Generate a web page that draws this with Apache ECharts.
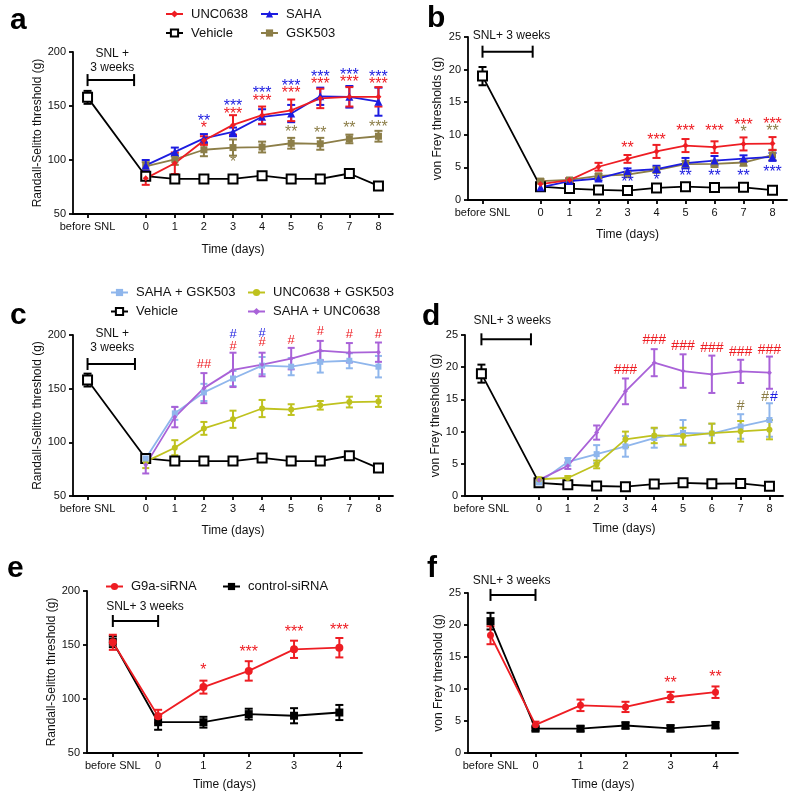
<!DOCTYPE html>
<html><head><meta charset="utf-8">
<script src="https://cdn.jsdelivr.net/npm/echarts@6/dist/echarts.min.js"></script>
<style>html,body{margin:0;padding:0;background:#fff}#chart{width:800px;height:799px}</style>
</head><body><div id="chart"></div>
<script>
// ---------------- DATA ----------------
const dayTicksLong = [-2, 0, 1, 2, 3, 4, 5, 6, 7, 8];   // -2 = "before SNL"
const dayTicksShort = [-1, 0, 1, 2, 3, 4];              // -1 = "before SNL"
const treatDays = [0, 1, 2, 3, 4, 5, 6, 7, 8];
const beforeLabel = 'before SNL';
const xTitle = 'Time (days)';
const rsTitle = 'Randall-Selitto threshold (g)';
const vfTitleAB = 'von Frey thresholds (g)';
const vfTitleF = 'von Frey threshold (g)';

// Vehicle (shared by a/c and b/d)
const vehicleRS = [158, 85, 82.5, 82.5, 82.5, 85.5, 82.5, 82.5, 87.5, 76];
const vehicleRSErr = [6, 3, 3, 3, 3, 3, 3.5, 3.5, 3, 2.5];
const vehicleVF = [19, 2.05, 1.75, 1.55, 1.45, 1.85, 2.05, 1.9, 1.95, 1.5];
const vehicleVFErr = [1.4, 0.3, 0.3, 0.3, 0.3, 0.3, 0.3, 0.3, 0.3, 0.3];

// Panel a (Randall-Selitto)
const uncA = [83, 97, 118, 132.5, 141.5, 146, 157, 158.5, 158.5];
const uncAErr = [6, 10, 4, 9, 8, 10, 9, 9, 9];
const sahaA = [95, 107.5, 120, 126, 140, 143, 159, 158.5, 154];
const sahaAErr = [5, 4, 4, 4, 7, 8, 8, 10, 13];
const gskA = [94, 100.5, 109.5, 111.5, 112, 115.5, 115, 119.5, 122];
const gskAErr = [4, 5, 6, 7.5, 5, 5, 5.5, 4, 5];

// Panel b (von Frey)
const uncB = [2.45, 3.05, 5.1, 6.3, 7.45, 8.35, 8.1, 8.6, 8.65];
const uncBErr = [0.3, 0.3, 0.6, 0.6, 1.0, 1.0, 0.9, 1.0, 1.0];
const sahaB = [1.95, 2.9, 3.3, 4.45, 4.75, 5.65, 6.05, 6.35, 6.6];
const sahaBErr = [0.3, 0.3, 0.3, 0.4, 0.5, 0.8, 0.7, 0.5, 0.6];
const gskB = [2.9, 3.07, 3.7, 3.9, 4.6, 5.5, 5.55, 5.75, 6.9];
const gskBErr = [0.3, 0.3, 0.3, 0.4, 0.4, 0.5, 0.5, 0.5, 0.8];

// Panel c (Randall-Selitto, combinations)
const sgC = [85, 127, 146.5, 159.5, 171.5, 170.5, 175, 176, 170.5];
const sgCErr = [4, 6, 8, 7, 8, 8, 10, 7, 10];
const ugC = [82, 95, 113, 121.5, 131.5, 130.5, 134.5, 137.5, 138];
const ugCErr = [6, 7, 6, 8, 8, 5, 4, 5, 5];
const suC = [79, 123.5, 150.5, 167.5, 172.5, 178, 185.5, 183.5, 184];
const suCErr = [8, 9.5, 14, 16, 11, 10, 9, 9, 9];

// Panel d (von Frey, combinations)
const sgD = [2.1, 5.3, 6.5, 7.7, 9, 9.8, 9.7, 10.8, 11.8];
const sgDErr = [0.3, 0.6, 1.4, 1.6, 1.5, 2.0, 1.5, 1.9, 2.6];
const ugD = [2.6, 2.8, 4.9, 8.8, 9.4, 9.3, 9.75, 10.05, 10.3];
const ugDErr = [0.3, 0.3, 0.6, 1.2, 1.2, 1.3, 1.5, 1.6, 1.5];
const suD = [2.5, 4.7, 9.85, 16.25, 20.7, 19.4, 18.9, 19.35, 19.15];
const suDErr = [0.3, 0.5, 1.1, 2.0, 2.1, 2.6, 2.9, 1.8, 2.5];

// Panel e (Randall-Selitto, siRNA)
const g9aE = [152.5, 84, 111, 126, 146, 147.5];
const g9aEErr = [7, 6, 6, 9, 8, 9];
const ctrlE = [153, 78.5, 78.5, 86, 84.5, 87.5];
const ctrlEErr = [5, 7, 5, 5, 7, 7];

// Panel f (von Frey, siRNA)
const g9aF = [18.4, 4.4, 7.45, 7.2, 8.75, 9.5];
const g9aFErr = [1.4, 0.5, 0.9, 0.8, 0.8, 0.9];
const ctrlF = [20.6, 3.8, 3.8, 4.3, 3.85, 4.35];
const ctrlFErr = [1.3, 0.3, 0.4, 0.5, 0.5, 0.5];

// Significance marks [day, level, text]
const starsARed = [[2,131.5,'*'],[3,144.5,'***'],[4,156.5,'***'],[5,164,'***'],[6,172.5,'***'],[7,174,'***'],[8,173,'***']];
const starsABlue = [[2,138,'**'],[3,152,'***'],[4,164,'***'],[5,170.5,'***'],[6,179.5,'***'],[7,181,'***'],[8,179.5,'***']];
const starsAOlive = [[3,100,'*'],[5,128.5,'**'],[6,127,'**'],[7,131.5,'**'],[8,132.5,'***']];
const starsBRed = [[3,8.35,'**'],[4,9.6,'***'],[5,11,'***'],[6,11,'***'],[7,11.9,'***'],[8,12,'***']];
const starsBOlive = [[7,10.8,'*'],[8,10.9,'**']];
const starsBBlue = [[3,3.07,'**'],[4,3.5,'*'],[5,4,'**'],[6,4,'**'],[7,4,'**'],[8,4.7,'***']];
const hashCRed = [[2,173,'##'],[3,189.5,'#'],[4,193,'#'],[5,195,'#'],[6,203,'#'],[7,201,'#'],[8,201,'#']];
const hashCBlue = [[3,201,'#'],[4,201.5,'#']];
const hashDRed = [[3,19.6,'###'],[4,24.2,'###'],[5,23.3,'###'],[6,22.9,'###'],[7,22.4,'###'],[8,22.7,'###']];
const hashDOlive = [[7,13.9,'#'],[7.85,15.3,'#']];
const hashDBlue = [[8.15,15.3,'#']];
const starsERed = [[1,129,'*'],[2,145.5,'***'],[3,164,'***'],[4,166,'***']];
const starsFRed = [[3,11.35,'**'],[4,12.3,'**']];

// "SNL + 3 weeks" annotations: [fromDay, toDay, level] and [day, level, text]
const snlBar = { a:[-2,-0.4,174], b:[-2,-0.27,22.75], c:[-2,-0.37,173], d:[-2,-0.28,24.33], e:[-1,0,172.2], f:[-1,0,24.7] };
const snlText = { a:[-1.15,191.7,'SNL +\n3 weeks'], b:[-1.0,25.15,'SNL+ 3 weeks'], c:[-1.15,195,'SNL +\n3 weeks'],
                  d:[-0.93,27.2,'SNL+ 3 weeks'], e:[-0.29,185.5,'SNL+ 3 weeks'], f:[-0.53,26.9,'SNL+ 3 weeks'] };

// ---------------- STYLE / LAYOUT ----------------
const FONT = '"Liberation Sans", Arial, Helvetica, sans-serif';
const RED = '#EE1D23', BLUE = '#1C1CE0', OLIVE = '#8C7E48';
const LBLUE = '#8FB6EC', YEL = '#BFC21E', PURP = '#A962D8';

const grids = [
  {left:73, top:52, width:320, height:162},
  {left:468, top:37, width:319, height:163},
  {left:73, top:335, width:320, height:161},
  {left:465, top:335, width:318, height:161},
  {left:87, top:591, width:275, height:162},
  {left:468, top:593, width:270, height:160}
];
const xRanges = [[-2.5,8.5],[-2.5,8.5],[-2.5,8.5],[-2.57,8.47],[-1.57,4.5],[-1.5,4.5]];
const yRanges = [[50,200,50],[0,25,5],[50,200,50],[0,25,5],[50,200,50],[0,25,5]];
const yTitles = [rsTitle, vfTitleAB, rsTitle, vfTitleAB, rsTitle, vfTitleF];
const yGaps = [24, 24, 24, 19, 26, 20];
const xGaps = [30, 29, 29, 27, 26, 26];

const axisLineStyle = {color:'#000', width:1.8};
const xAxes = grids.map((g, i) => {
  const ticks = i < 4 ? dayTicksLong : dayTicksShort;
  const base = i < 4 ? -2 : -1;
  return {
    type:'value', gridIndex:i, min:xRanges[i][0], max:xRanges[i][1],
    name:xTitle, nameLocation:'middle', nameGap:xGaps[i],
    nameTextStyle:{fontFamily:FONT, fontSize:12, color:'#111'},
    axisLine:{show:true, onZero:false, lineStyle:axisLineStyle},
    axisTick:{show:true, length:4, customValues:ticks, lineStyle:axisLineStyle},
    axisLabel:{customValues:ticks, margin:7, fontFamily:FONT, fontSize:11, color:'#111',
      formatter: v => (v === base ? beforeLabel : String(v))},
    splitLine:{show:false}
  };
});
const yAxes = grids.map((g, i) => ({
  type:'value', gridIndex:i, min:yRanges[i][0], max:yRanges[i][1], interval:yRanges[i][2],
  name:yTitles[i], nameLocation:'middle', nameGap:yGaps[i],
  nameTextStyle:{fontFamily:FONT, fontSize:12, color:'#111'},
  axisLine:{show:true, onZero:false, lineStyle:axisLineStyle},
  axisTick:{show:true, length:4, lineStyle:axisLineStyle},
  axisLabel:{margin:7, fontFamily:FONT, fontSize:11, color:'#111'},
  splitLine:{show:false}
}));

function pts(xs, ys) { return xs.map((x, k) => [x, ys[k]]); }

function lineS(gi, name, xs, ys, color, symbol, size, filled) {
  return {
    type:'line', name, xAxisIndex:gi, yAxisIndex:gi, data:pts(xs, ys),
    symbol, symbolSize:size, showSymbol:true, z:4, emphasis:{disabled:true},
    lineStyle:{color, width:1.8},
    itemStyle: filled === false ? {color:'#fff', borderColor:color, borderWidth:2}
                                : {color, borderColor:color, borderWidth:0}
  };
}
function errS(gi, xs, ys, es, color, cap) {
  return {
    type:'custom', xAxisIndex:gi, yAxisIndex:gi, silent:true, z:3,
    encode:{x:0, y:[1, 2]},
    data: xs.map((x, k) => [x, ys[k] - es[k], ys[k] + es[k]]),
    renderItem(params, api) {
      const lo = api.coord([api.value(0), api.value(1)]);
      const hi = api.coord([api.value(0), api.value(2)]);
      const h = cap / 2;
      const st = {stroke:color, lineWidth:2};
      return {type:'group', children:[
        {type:'line', shape:{x1:lo[0], y1:lo[1], x2:hi[0], y2:hi[1]}, style:st},
        {type:'line', shape:{x1:lo[0]-h, y1:lo[1], x2:lo[0]+h, y2:lo[1]}, style:st},
        {type:'line', shape:{x1:hi[0]-h, y1:hi[1], x2:hi[0]+h, y2:hi[1]}, style:st}
      ]};
    }
  };
}
function textS(gi, items, color, size, dy, lineHeight) {
  return {
    type:'custom', xAxisIndex:gi, yAxisIndex:gi, silent:true, z:6, clip:false,
    encode:{x:0, y:1},
    data: items.map(d => [d[0], d[1]]),
    renderItem(params, api) {
      const p = api.coord([api.value(0), api.value(1)]);
      return {type:'text', x:p[0], y:p[1] + dy, style:{
        text: items[params.dataIndex][2], fill:color,
        font: size + 'px ' + FONT, align:'center', verticalAlign:'middle',
        lineHeight: lineHeight || size
      }};
    }
  };
}
function bracketS(gi, b) {
  return {
    type:'line', xAxisIndex:gi, yAxisIndex:gi, silent:true, z:5,
    data:[[b[0], b[2]], [b[1], b[2]]], symbol:'rect', symbolSize:[2, 12],
    lineStyle:{color:'#000', width:2}, itemStyle:{color:'#000'}, emphasis:{disabled:true}
  };
}

const vehX = dayTicksLong;
const series = [];
function vehicle(gi, ys, es) {
  series.push(errS(gi, vehX, ys, es, '#000', 8));
  series.push(lineS(gi, 'Vehicle', vehX, ys, '#000', 'rect', 9, false));
}
// a
vehicle(0, vehicleRS, vehicleRSErr);
series.push(errS(0, treatDays, gskA, gskAErr, OLIVE, 8), lineS(0, 'GSK503', treatDays, gskA, OLIVE, 'rect', 7));
series.push(errS(0, treatDays, sahaA, sahaAErr, BLUE, 8), lineS(0, 'SAHA', treatDays, sahaA, BLUE, 'triangle', 8));
series.push(errS(0, treatDays, uncA, uncAErr, RED, 8), lineS(0, 'UNC0638', treatDays, uncA, RED, 'diamond', 6));
// b
vehicle(1, vehicleVF, vehicleVFErr);
series.push(errS(1, treatDays, gskB, gskBErr, OLIVE, 8), lineS(1, 'GSK503', treatDays, gskB, OLIVE, 'rect', 7));
series.push(errS(1, treatDays, sahaB, sahaBErr, BLUE, 8), lineS(1, 'SAHA', treatDays, sahaB, BLUE, 'triangle', 8));
series.push(errS(1, treatDays, uncB, uncBErr, RED, 8), lineS(1, 'UNC0638', treatDays, uncB, RED, 'diamond', 6));
// c
vehicle(2, vehicleRS, vehicleRSErr);
series.push(errS(2, treatDays, ugC, ugCErr, YEL, 7), lineS(2, 'UNC0638 + GSK503', treatDays, ugC, YEL, 'circle', 6));
series.push(errS(2, treatDays, sgC, sgCErr, LBLUE, 7), lineS(2, 'SAHA + GSK503', treatDays, sgC, LBLUE, 'rect', 6));
series.push(errS(2, treatDays, suC, suCErr, PURP, 7), lineS(2, 'SAHA + UNC0638', treatDays, suC, PURP, 'diamond', 5));
// d
vehicle(3, vehicleVF, vehicleVFErr);
series.push(errS(3, treatDays, sgD, sgDErr, LBLUE, 7), lineS(3, 'SAHA + GSK503', treatDays, sgD, LBLUE, 'rect', 6));
series.push(errS(3, treatDays, ugD, ugDErr, YEL, 7), lineS(3, 'UNC0638 + GSK503', treatDays, ugD, YEL, 'circle', 6));
series.push(errS(3, treatDays, suD, suDErr, PURP, 7), lineS(3, 'SAHA + UNC0638', treatDays, suD, PURP, 'diamond', 5));
// e
series.push(errS(4, dayTicksShort, ctrlE, ctrlEErr, '#000', 8), lineS(4, 'control-siRNA', dayTicksShort, ctrlE, '#000', 'rect', 8));
series.push(errS(4, dayTicksShort, g9aE, g9aEErr, RED, 8), lineS(4, 'G9a-siRNA', dayTicksShort, g9aE, RED, 'circle', 8));
// f
series.push(errS(5, dayTicksShort, ctrlF, ctrlFErr, '#000', 8), lineS(5, 'control-siRNA', dayTicksShort, ctrlF, '#000', 'rect', 8));
series.push(errS(5, dayTicksShort, g9aF, g9aFErr, RED, 8), lineS(5, 'G9a-siRNA', dayTicksShort, g9aF, RED, 'circle', 7));

// significance marks
const SS = 16; // star font size
const SD = 3;  // asterisk glyph sits high in the em box
series.push(textS(0, starsARed, RED, SS, SD), textS(0, starsABlue, BLUE, SS, SD), textS(0, starsAOlive, OLIVE, SS, SD));
series.push(textS(1, starsBRed, RED, SS, SD), textS(1, starsBOlive, OLIVE, SS, SD), textS(1, starsBBlue, BLUE, SS, SD));
series.push(textS(2, hashCRed, RED, 13, 0), textS(2, hashCBlue, BLUE, 13, 0));
series.push(textS(3, hashDRed, RED, 14, 0), textS(3, hashDOlive, OLIVE, 14, 0), textS(3, hashDBlue, BLUE, 14, 0));
series.push(textS(4, starsERed, RED, SS, SD), textS(5, starsFRed, RED, SS, SD));

// SNL brackets + text
['a','b','c','d','e','f'].forEach((k, gi) => {
  series.push(bracketS(gi, snlBar[k]));
  series.push(textS(gi, [snlText[k]], '#111', 12, 0, 14));
});

function legend(left, top, names, orient) {
  return {
    left, top, orient: orient || 'vertical', padding:0, itemGap:6, itemWidth:17, itemHeight:9,
    selectedMode:false, data:names,
    textStyle:{fontFamily:FONT, fontSize:13, color:'#111', padding:[0,0,0,3]}
  };
}

const letters = [['a',10,36],['b',427,34],['c',10,331],['d',422,332],['e',7,584],['f',427,584]];

const option = {
  animation:false,
  backgroundColor:'#fff',
  grid: grids.map(g => Object.assign({containLabel:false}, g)),
  xAxis: xAxes, yAxis: yAxes,
  legend: [
    legend(165, 7.5, ['UNC0638', 'Vehicle']),
    legend(260, 7.5, ['SAHA', 'GSK503']),
    legend(110, 286, ['SAHA + GSK503', 'Vehicle']),
    legend(247, 286, ['UNC0638 + GSK503', 'SAHA + UNC0638']),
    legend(105, 580, ['G9a-siRNA']),
    legend(222, 580, ['control-siRNA'])
  ],
  graphic: letters.map(l => ({type:'text', left:l[1], top:l[2] - 30, silent:true,
    style:{text:l[0], font:'bold 30px ' + FONT, fill:'#000'}})),
  series
};
const chart = echarts.init(document.getElementById('chart'), null, {renderer:'canvas'});
chart.setOption(option);
</script></body></html>
